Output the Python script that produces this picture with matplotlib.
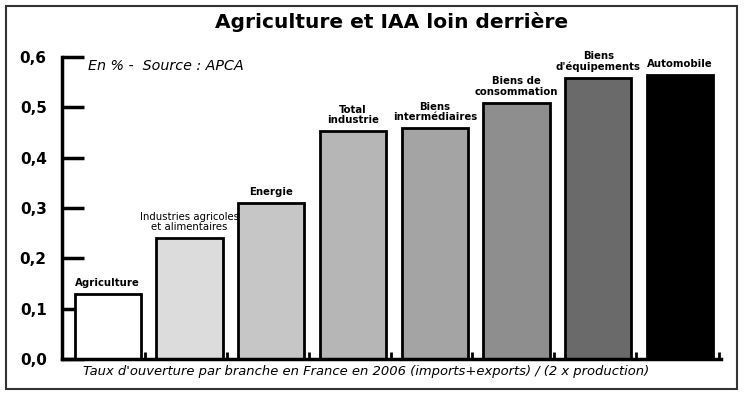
import matplotlib
matplotlib.use("Agg")
import matplotlib.pyplot as plt
from matplotlib.patches import Rectangle
from matplotlib.ticker import FuncFormatter

labels = [
    "Agriculture",
    "Industries agricoles\net alimentaires",
    "Energie",
    "Total\nindustrie",
    "Biens\nintermédiaires",
    "Biens de\nconsommation",
    "Biens\nd'équipements",
    "Automobile",
]
values = [0.13, 0.24, 0.31, 0.453, 0.459, 0.509, 0.559, 0.565]
colors = ["#ffffff", "#dcdcdc", "#c6c6c6", "#b6b6b6", "#a4a4a4", "#8e8e8e", "#6a6a6a", "#000000"]
yticks = [0.0, 0.1, 0.2, 0.3, 0.4, 0.5, 0.6]

title = "Agriculture et IAA loin derrière"
note = "En % -  Source : APCA"
xlabel = "Taux d'ouverture par branche en France en 2006 (imports+exports) / (2 x production)"

fig = plt.figure(figsize=(7.47, 3.96), dpi=100)
ax = fig.add_axes([62 / 747, 37 / 396, 659 / 747, 302 / 396])

x = list(range(len(values)))
ax.bar(x, values, width=0.81, color=colors, edgecolor="black", linewidth=2, zorder=2)

for i, (xi, v, lab) in enumerate(zip(x, values, labels)):
    weight = "normal" if i == 1 else "bold"
    ax.text(xi, v + 0.012, lab, ha="center", va="bottom", fontsize=7.3,
            fontweight=weight, linespacing=1.05)

ax.set_xlim(-0.56, 7.5)
ax.set_ylim(0, 0.6)
ax.set_yticks(yticks)
ax.yaxis.set_major_formatter(FuncFormatter(lambda v, _: f"{v:.1f}".replace(".", ",")))
ax.tick_params(axis="y", direction="in", length=16, width=2.5, pad=11, labelsize=11)
for t in ax.get_yticklabels():
    t.set_fontweight("bold")

ax.set_xticks([i + 0.46 for i in range(7)] + [7.48])
ax.set_xticklabels([])
ax.tick_params(axis="x", direction="in", length=5, width=2)

for s in ["top", "right"]:
    ax.spines[s].set_visible(False)
for s in ["left", "bottom"]:
    ax.spines[s].set_linewidth(2.5)

ax.text(0.04, 0.97, note, transform=ax.transAxes, fontsize=10.3, style="italic",
        ha="left", va="center")
fig.text(83 / 747, 1 - 372 / 396, xlabel, fontsize=9.45, style="italic",
         ha="left", va="center")
fig.text(392 / 747, 1 - 22 / 396, title, fontsize=14.5, fontweight="bold",
         ha="center", va="center")

fig.patches.append(Rectangle((6 / 747, 7 / 396), 731 / 747, 383 / 396,
                             transform=fig.transFigure, fill=False,
                             edgecolor="#333333", linewidth=1.5))

fig.savefig("out.png", dpi=100)
